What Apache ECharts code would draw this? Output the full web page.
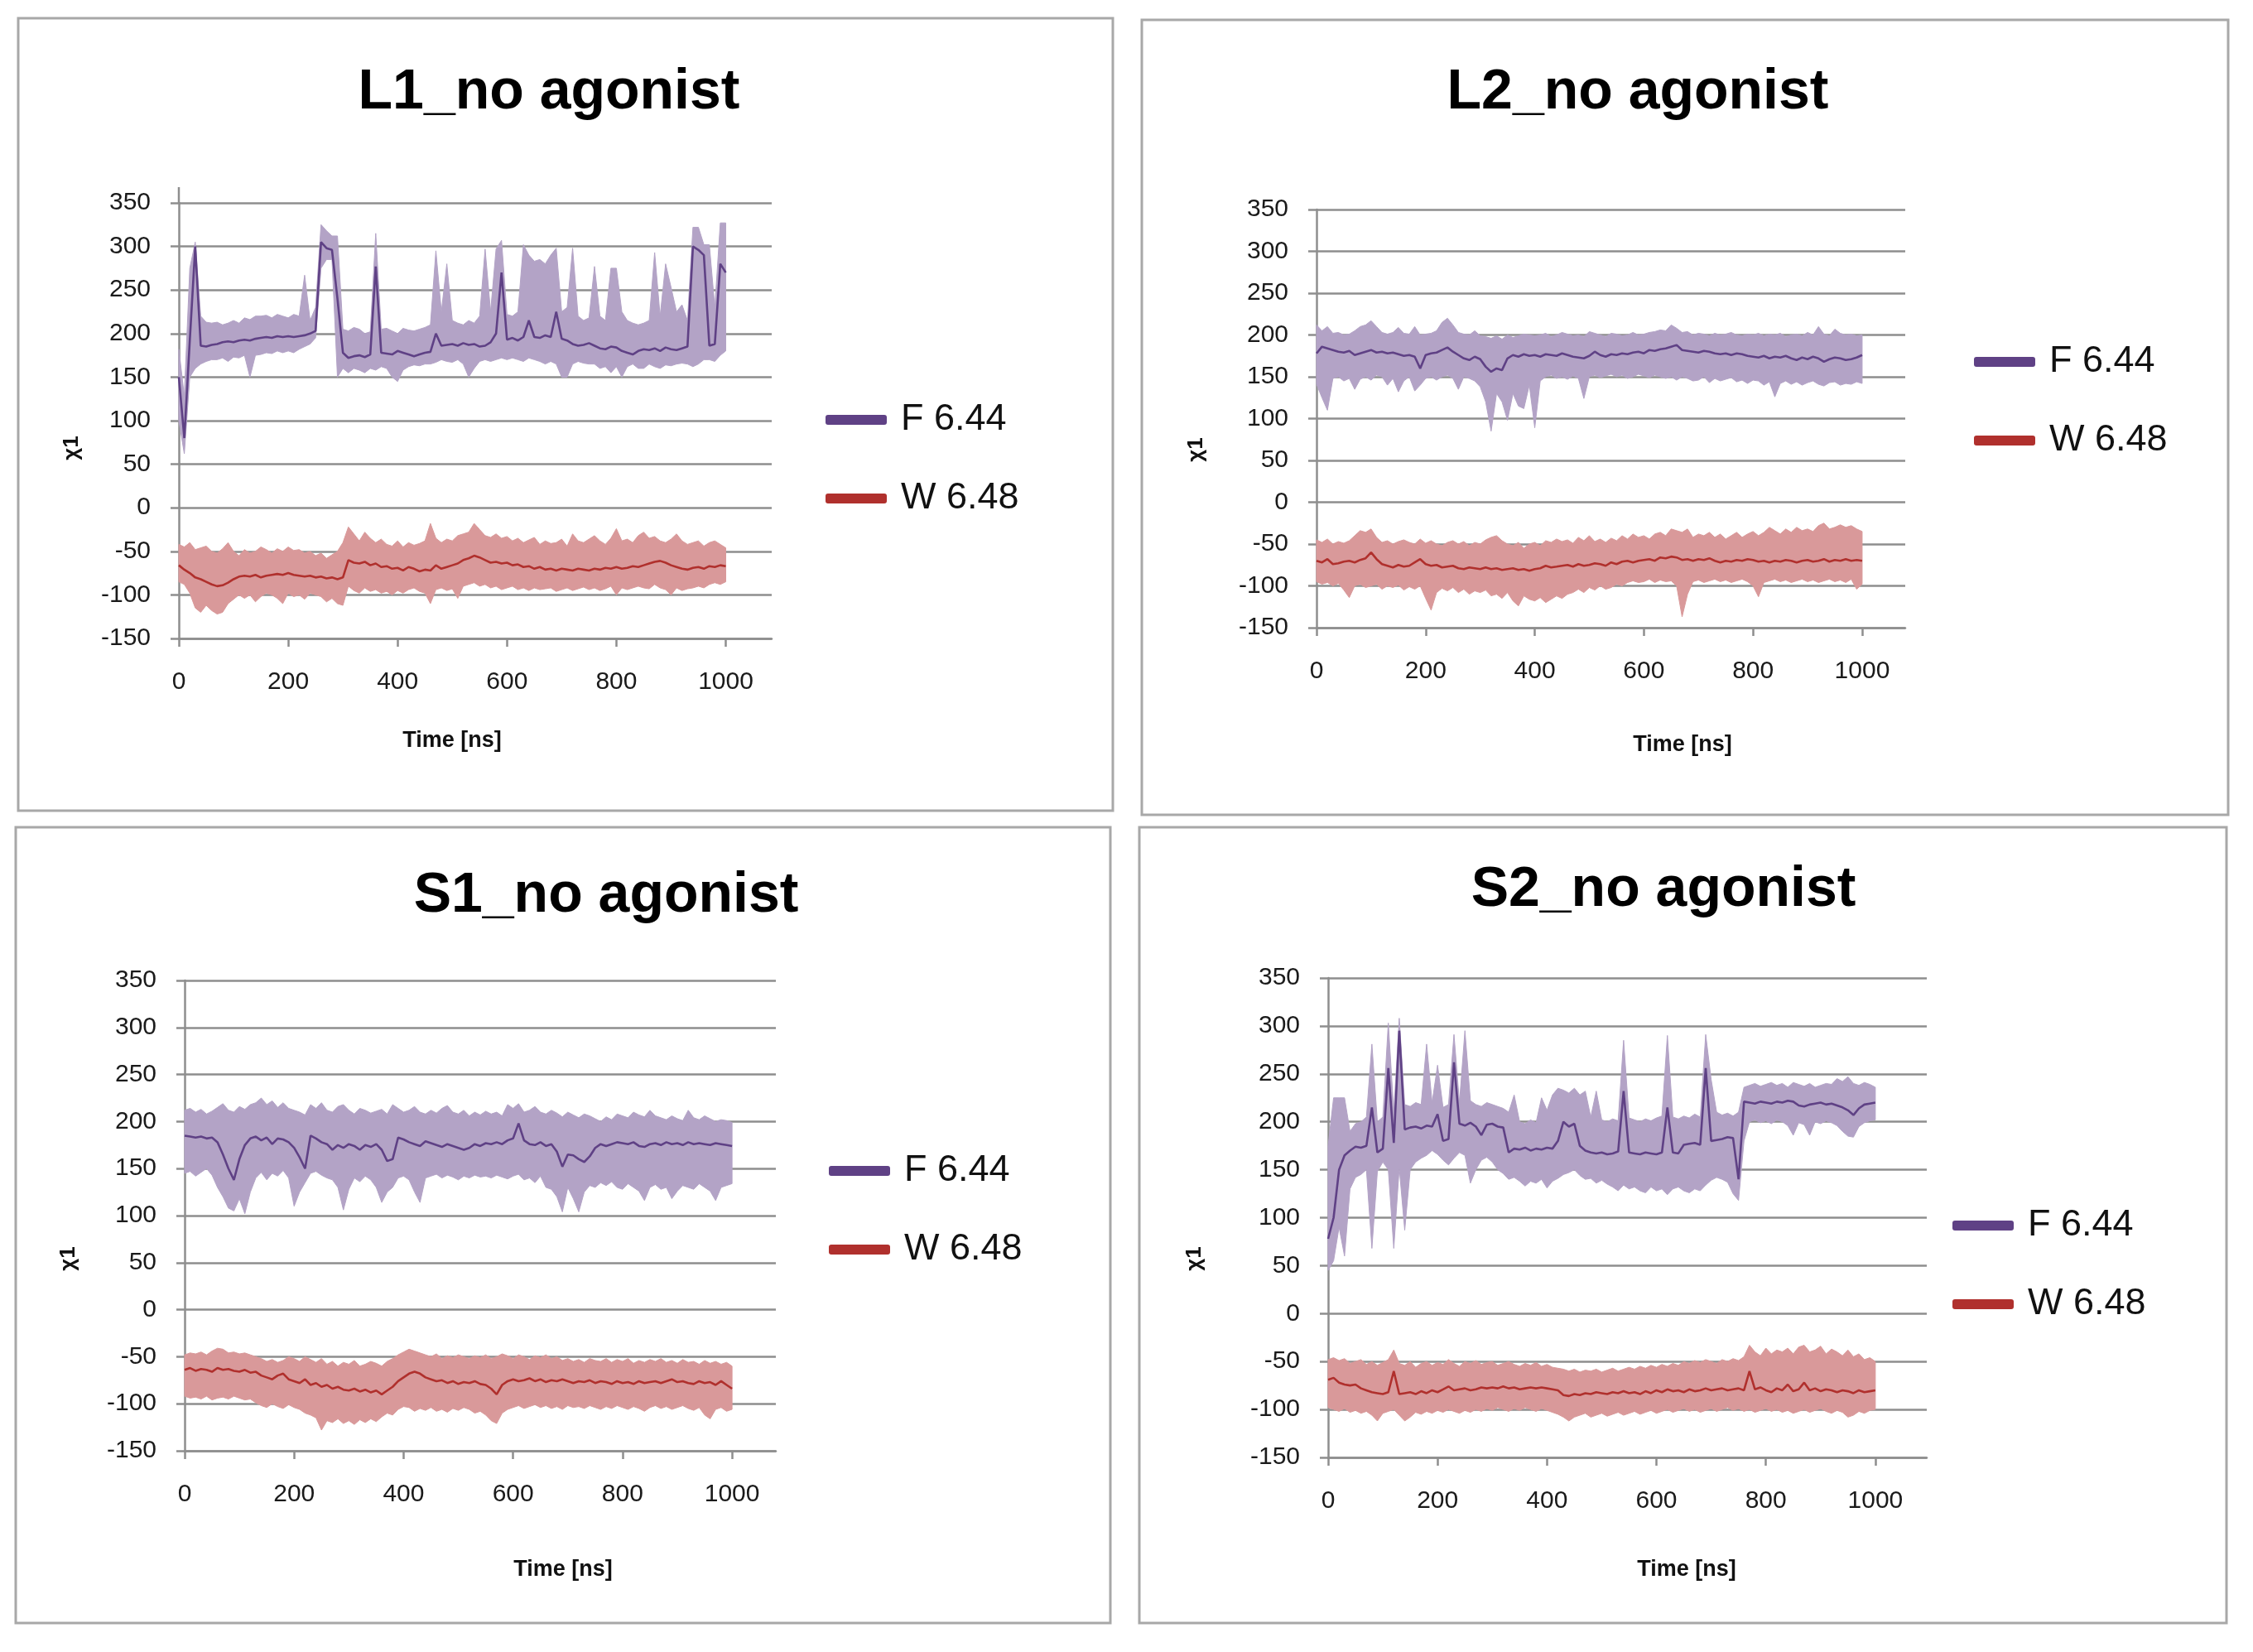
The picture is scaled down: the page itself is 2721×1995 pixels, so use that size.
<!DOCTYPE html>
<html><head><meta charset="utf-8">
<script src="https://cdn.jsdelivr.net/npm/echarts@6/dist/echarts.min.js"></script>
<style>html,body{margin:0;padding:0;background:#fff}#c{width:2721px;height:1995px}</style>
</head><body><div id="c"></div>
<script>
const TIME = [0,10,20,30,40,50,60,70,80,90,100,110,120,130,140,150,160,170,180,190,200,210,220,230,240,250,260,270,280,290,300,310,320,330,340,350,360,370,380,390,400,410,420,430,440,450,460,470,480,490,500,510,520,530,540,550,560,570,580,590,600,610,620,630,640,650,660,670,680,690,700,710,720,730,740,750,760,770,780,790,800,810,820,830,840,850,860,870,880,890,900,910,920,930,940,950,960,970,980,990,1000];
const X_TICKS = [0,200,400,600,800,1000];
const SERIES_NAMES = ['F 6.44','W 6.48'];
const PANEL_TITLES = ['L1_no agonist','L2_no agonist','S1_no agonist','S2_no agonist'];

// ---- L1 ----
const L1_F_MEAN = [150,80,192,300,186,185,187,188,190,191, 190,192,193,192,194,195,196,195,197,196, 197,196,197,198,200,203,305,298,296,240, 178,172,174,175,173,176,277,178,177,176, 180,178,176,174,176,178,179,200,186,187, 188,186,189,187,188,185,186,190,200,270, 193,195,192,196,215,196,195,198,196,225, 194,192,188,186,187,189,186,183,182,185, 184,180,178,176,180,182,181,183,180,184, 182,181,183,185,300,296,290,186,188,280, 270];
const L1_F_HI = [182,128,275,305,220,213,212,213,210,212, 215,212,218,216,220,220,221,218,222,220, 218,222,220,267,215,230,325,318,312,312, 205,203,207,205,200,202,315,205,206,203, 200,206,204,203,205,207,210,295,225,280, 215,212,210,215,212,220,297,225,297,307, 222,220,225,302,290,283,285,280,290,298, 225,230,298,220,215,218,277,220,215,275, 275,225,215,212,210,212,215,293,220,280, 253,225,233,215,322,322,302,302,230,327, 327];
const L1_F_LO = [100,62,150,160,165,168,170,170,172,168, 173,172,175,150,175,176,178,177,180,178, 180,178,182,185,188,195,275,285,285,150, 160,155,160,158,155,160,158,162,160,150, 145,158,162,164,163,165,165,167,170,168, 167,170,165,150,160,168,170,168,170,172, 170,172,170,168,172,170,168,165,168,165, 150,150,165,168,166,165,165,160,162,155, 162,150,162,165,160,160,165,162,160,164, 163,165,166,165,162,165,170,170,168,175, 180];
const L1_W_MEAN = [-66,-71,-75,-80,-82,-85,-88,-90,-89,-86, -82,-79,-78,-79,-77,-80,-78,-77,-76,-77, -75,-77,-78,-79,-78,-80,-79,-81,-80,-82, -80,-60,-63,-64,-62,-66,-64,-68,-67,-70, -69,-72,-68,-70,-73,-71,-72,-66,-70,-68, -66,-64,-60,-58,-55,-57,-60,-63,-62,-64, -63,-66,-65,-68,-67,-70,-68,-71,-70,-72, -70,-71,-72,-70,-71,-72,-70,-71,-69,-70, -68,-70,-69,-67,-68,-66,-64,-62,-61,-63, -66,-68,-70,-71,-69,-68,-70,-67,-68,-66, -67];
const L1_W_HI = [-42,-45,-40,-48,-46,-44,-50,-52,-47,-40, -50,-55,-48,-52,-50,-45,-48,-52,-47,-50, -45,-49,-48,-52,-50,-55,-52,-58,-54,-50, -40,-22,-30,-38,-28,-35,-40,-36,-42,-44, -38,-45,-40,-43,-41,-38,-18,-35,-40,-36, -38,-32,-30,-28,-18,-25,-32,-34,-30,-35, -33,-38,-35,-40,-37,-34,-42,-38,-41,-40, -36,-44,-30,-38,-40,-36,-32,-38,-42,-35, -24,-38,-36,-40,-32,-28,-35,-33,-38,-40, -36,-30,-38,-42,-40,-38,-44,-40,-38,-42, -46];
const L1_W_LO = [-85,-88,-98,-115,-120,-112,-118,-122,-120,-110, -105,-100,-104,-100,-108,-102,-98,-100,-104,-110, -98,-102,-100,-105,-98,-100,-102,-108,-104,-110, -112,-90,-95,-98,-92,-96,-94,-98,-96,-100, -95,-98,-94,-92,-96,-98,-110,-94,-92,-95, -93,-104,-90,-88,-86,-90,-88,-92,-90,-94, -92,-90,-94,-92,-95,-92,-94,-93,-92,-96, -94,-92,-95,-93,-91,-94,-92,-95,-93,-90, -100,-92,-94,-92,-90,-92,-93,-88,-92,-94, -100,-92,-95,-93,-92,-90,-92,-88,-86,-88, -85];

// ---- L2 ----
const L2_F_MEAN = [178,186,184,182,180,179,181,176,178,180, 182,179,180,178,179,177,175,176,174,160, 176,178,179,182,185,180,176,172,170,174, 171,162,156,160,158,172,176,174,177,175, 176,174,177,176,175,178,176,174,173,172, 175,180,176,174,177,176,178,177,179,180, 178,182,181,183,184,186,188,182,181,180, 179,181,180,178,177,178,176,178,177,175, 174,173,175,172,174,173,175,172,170,173, 171,174,172,168,171,173,172,170,171,173, 176];
const L2_F_HI = [212,205,210,202,203,200,201,205,210,212, 217,210,203,201,203,209,202,201,210,200, 201,202,205,215,220,212,203,201,200,205, 199,198,196,199,195,200,197,199,201,200, 199,200,202,198,200,203,201,199,200,198, 204,202,200,198,202,201,199,200,203,200, 201,203,204,206,205,212,208,203,204,200, 202,201,199,202,200,201,203,200,199,201, 200,202,199,201,200,202,198,200,201,199, 203,200,210,201,199,207,202,200,201,199, 200];
const L2_F_LO = [141,125,110,148,150,145,148,135,147,150, 146,152,150,140,148,132,145,150,133,140, 148,150,146,150,152,148,135,150,148,145, 138,120,85,130,120,98,130,115,112,140, 89,145,150,152,148,150,147,151,148,124, 150,152,149,151,153,150,152,148,150,153, 151,149,152,150,148,150,146,150,148,145, 146,150,143,148,145,147,149,144,146,142, 146,145,140,144,126,142,145,141,144,140, 143,145,141,139,143,144,140,142,141,144, 142];
const L2_W_MEAN = [-70,-72,-68,-74,-73,-71,-70,-72,-69,-67, -60,-68,-74,-76,-78,-75,-77,-76,-72,-68, -74,-76,-75,-78,-77,-76,-79,-80,-78,-79, -80,-78,-80,-79,-81,-80,-79,-81,-80,-82, -80,-79,-76,-78,-77,-76,-75,-77,-74,-76, -75,-73,-74,-76,-72,-74,-71,-70,-72,-70, -69,-68,-70,-66,-67,-65,-66,-69,-68,-70, -68,-69,-67,-70,-72,-70,-71,-69,-70,-68, -69,-71,-70,-72,-70,-71,-69,-70,-72,-70, -69,-71,-70,-68,-71,-69,-70,-68,-70,-69, -70];
const L2_W_HI = [-45,-48,-44,-50,-47,-49,-46,-40,-34,-36, -32,-42,-48,-46,-50,-47,-45,-48,-50,-44, -49,-46,-50,-52,-48,-46,-50,-47,-52,-48, -50,-45,-42,-40,-46,-50,-52,-48,-55,-50, -48,-52,-46,-48,-44,-47,-45,-49,-42,-46, -40,-47,-44,-48,-43,-46,-40,-44,-38,-42, -40,-44,-38,-36,-40,-32,-34,-36,-32,-42, -38,-40,-36,-42,-38,-44,-40,-36,-42,-38, -35,-40,-36,-30,-34,-38,-32,-36,-30,-34, -32,-35,-28,-25,-32,-30,-27,-30,-28,-32, -35];
const L2_W_LO = [-95,-98,-96,-100,-97,-105,-114,-100,-98,-102, -100,-98,-104,-100,-102,-99,-105,-101,-104,-100, -115,-129,-108,-103,-106,-102,-108,-104,-110,-106, -108,-105,-112,-110,-115,-108,-118,-124,-112,-116, -118,-114,-120,-116,-112,-115,-110,-108,-104,-108, -102,-105,-100,-104,-102,-98,-100,-96,-94,-96, -95,-92,-96,-93,-95,-94,-100,-137,-110,-95, -93,-96,-94,-92,-95,-93,-96,-94,-92,-95, -100,-113,-96,-94,-92,-95,-93,-96,-94,-92, -95,-93,-96,-94,-92,-95,-93,-96,-92,-104, -98];

// ---- S1 ----
const S1_F_MEAN = [185,184,183,184,182,183,178,165,150,138, 160,175,182,184,180,183,176,182,181,178, 172,162,150,185,182,178,176,170,175,172, 176,174,170,175,173,176,170,158,160,183, 181,178,176,174,179,177,175,173,176,174, 172,170,172,176,174,177,176,178,176,180, 182,198,180,176,175,178,174,176,168,152, 165,164,160,157,163,172,176,174,176,178, 177,176,178,174,173,176,177,175,178,176, 177,175,178,176,177,176,175,177,176,175, 174];
const S1_F_HI = [212,214,210,213,208,211,215,219,212,210, 216,213,218,220,225,218,222,215,220,214, 212,210,207,218,214,220,212,210,216,218, 212,208,214,212,209,211,213,208,218,214, 210,212,216,210,208,212,209,214,217,210, 208,212,206,210,207,211,208,210,206,218, 214,219,210,212,216,210,208,212,209,205, 210,207,204,208,206,203,200,205,202,208, 206,204,210,207,205,212,206,204,202,206, 203,201,212,204,202,206,203,200,202,201, 199];
const S1_F_LO = [145,147,142,146,150,143,130,120,108,105, 118,102,125,140,146,138,145,142,148,140, 110,125,135,145,147,143,140,138,130,106, 128,140,136,142,138,130,114,125,130,140, 142,138,125,114,140,142,144,140,143,141, 138,142,140,143,141,142,140,143,141,139, 142,144,138,140,135,142,130,128,120,104, 130,118,104,125,132,130,135,132,136,130, 128,134,130,126,116,130,133,128,130,118, 126,132,130,128,134,130,126,116,130,132, 134];
const S1_W_MEAN = [-64,-62,-65,-63,-64,-66,-62,-64,-63,-65, -66,-64,-67,-66,-70,-72,-74,-70,-68,-74, -76,-78,-74,-80,-78,-82,-80,-84,-82,-85, -86,-84,-87,-85,-88,-86,-90,-86,-82,-76, -72,-68,-66,-68,-72,-74,-76,-75,-78,-76, -79,-77,-78,-76,-79,-80,-84,-90,-80,-76, -74,-76,-75,-73,-76,-74,-77,-75,-76,-74, -76,-78,-76,-77,-75,-78,-76,-77,-79,-76, -78,-77,-79,-76,-78,-77,-76,-78,-76,-74, -77,-76,-78,-79,-76,-78,-77,-80,-76,-80, -84];
const S1_W_HI = [-48,-46,-47,-45,-48,-44,-41,-42,-46,-45, -47,-46,-48,-50,-52,-55,-53,-56,-54,-50, -52,-55,-50,-53,-56,-52,-58,-55,-60,-56, -58,-54,-60,-58,-55,-57,-60,-55,-52,-48, -45,-42,-44,-46,-48,-50,-47,-52,-49,-51, -48,-50,-52,-49,-51,-48,-52,-50,-47,-49, -52,-48,-50,-53,-49,-51,-48,-52,-50,-54, -52,-55,-53,-56,-52,-54,-55,-52,-56,-53, -55,-52,-57,-54,-56,-53,-55,-52,-56,-54, -57,-53,-56,-55,-58,-54,-57,-55,-58,-56, -60];
const S1_W_LO = [-92,-94,-93,-95,-92,-96,-94,-93,-95,-92, -94,-96,-95,-99,-102,-104,-100,-103,-105,-101, -104,-106,-110,-112,-115,-128,-118,-120,-116,-121, -118,-122,-117,-120,-116,-119,-114,-110,-112,-106, -103,-104,-108,-105,-107,-104,-108,-106,-109,-105, -107,-104,-106,-110,-108,-112,-118,-121,-110,-106, -104,-102,-105,-103,-101,-104,-102,-105,-103,-106, -102,-104,-103,-105,-102,-104,-106,-103,-105,-102, -104,-106,-103,-105,-108,-104,-102,-105,-103,-106, -104,-102,-105,-107,-104,-112,-116,-106,-104,-108, -106];

// ---- S2 ----
const S2_F_MEAN = [78,100,150,165,170,174,173,175,215,168, 172,256,178,295,192,194,195,193,196,195, 208,180,182,262,198,196,199,195,186,197, 198,195,194,168,172,171,173,170,172,171, 173,172,180,200,195,198,175,170,168,167, 168,166,167,169,232,168,167,166,168,167, 166,168,215,168,167,176,177,178,176,256, 180,181,182,184,183,140,221,220,219,221, 220,219,221,220,222,221,217,216,218,219, 220,218,219,217,215,212,207,214,218,219, 220];
const S2_F_HI = [175,225,225,225,190,198,200,205,281,200, 205,303,210,308,218,216,220,218,281,220, 259,215,218,291,220,295,222,218,216,220, 218,216,214,210,228,200,198,202,199,225, 212,228,235,233,230,235,228,232,205,232, 202,200,203,201,285,204,202,200,203,201, 204,206,290,205,203,206,204,208,205,291, 244,210,207,209,206,210,236,238,240,237, 239,241,238,240,236,241,239,237,240,236, 238,240,239,245,242,247,240,238,241,239, 236];
const S2_F_LO = [45,55,90,60,130,142,145,150,68,148, 158,150,68,152,87,150,158,162,165,170, 166,160,155,162,168,165,136,150,160,163, 158,150,146,140,142,138,133,138,136,140, 131,138,141,145,147,150,144,140,141,136, 139,135,132,128,134,130,132,128,126,132, 128,130,124,130,132,128,126,130,128,134, 139,142,140,137,125,118,180,200,202,199, 201,198,202,200,196,186,199,197,186,200, 198,201,199,196,190,185,184,195,199,201, 202];
const S2_W_MEAN = [-69,-67,-72,-74,-75,-74,-78,-80,-82,-83, -84,-82,-60,-84,-83,-82,-84,-81,-83,-80, -82,-79,-76,-80,-79,-78,-80,-79,-77,-78, -77,-78,-76,-78,-77,-79,-78,-77,-78,-77, -78,-79,-80,-85,-86,-84,-85,-83,-84,-82, -83,-84,-82,-83,-81,-83,-82,-84,-81,-83, -80,-82,-79,-81,-80,-82,-79,-81,-80,-78, -80,-79,-78,-80,-79,-78,-80,-60,-79,-77, -80,-82,-78,-80,-74,-81,-79,-72,-80,-78, -81,-79,-80,-82,-80,-81,-83,-80,-82,-81, -80];
const S2_W_HI = [-48,-46,-49,-47,-52,-50,-48,-53,-50,-54, -51,-48,-38,-52,-54,-50,-56,-52,-50,-54, -51,-53,-48,-52,-55,-50,-52,-49,-53,-51, -50,-54,-52,-50,-53,-55,-52,-54,-51,-55, -53,-56,-57,-58,-60,-58,-61,-59,-60,-58, -61,-59,-57,-60,-58,-56,-58,-55,-57,-54, -56,-53,-55,-52,-54,-50,-52,-49,-51,-48, -50,-52,-48,-50,-47,-49,-45,-33,-40,-44, -36,-42,-38,-40,-36,-42,-35,-33,-40,-38, -34,-42,-37,-40,-44,-38,-45,-42,-48,-46, -50];
const S2_W_LO = [-98,-100,-102,-99,-103,-101,-104,-102,-106,-112, -104,-102,-100,-106,-112,-108,-103,-105,-102,-104, -101,-103,-100,-102,-104,-101,-103,-100,-102,-99, -101,-98,-100,-102,-99,-101,-98,-100,-102,-99, -101,-103,-105,-108,-112,-108,-106,-104,-108,-106, -104,-107,-105,-103,-106,-104,-102,-105,-103,-101, -104,-102,-100,-103,-101,-99,-102,-100,-103,-101, -99,-102,-100,-98,-101,-99,-102,-100,-103,-101, -99,-102,-100,-103,-101,-104,-102,-100,-103,-101, -99,-102,-104,-101,-103,-108,-106,-102,-104,-101, -100];

const COLORS = {
  fLine: '#5f4185', fBand: '#b3a3c6',
  wLine: '#b0302d', wBand: '#d9999a',
  grid: '#8e8e8e', text: '#1a1a1a', border: '#a8a8a8'
};
const FONT = 'Liberation Sans';

const PANELS = [
  { title: PANEL_TITLES[0], F: [L1_F_MEAN, L1_F_HI, L1_F_LO], W: [L1_W_MEAN, L1_W_HI, L1_W_LO],
    grid: {left: 216, top: 245, width: 716, height: 526}, xMax: 1084, axisTopExtra: 19,
    box: [22, 22, 1322, 957], titlePos: [663, 112], xName: [546, 895], yName: [87, 541], legend: [992, 477] },
  { title: PANEL_TITLES[1], F: [L2_F_MEAN, L2_F_HI, L2_F_LO], W: [L2_W_MEAN, L2_W_HI, L2_W_LO],
    grid: {left: 1590, top: 253, width: 711, height: 505}, xMax: 1079, axisTopExtra: 0,
    box: [1379, 24, 1312, 960], titlePos: [1978, 112], xName: [2032, 900], yName: [1445, 543], legend: [2379, 407] },
  { title: PANEL_TITLES[2], F: [S1_F_MEAN, S1_F_HI, S1_F_LO], W: [S1_W_MEAN, S1_W_HI, S1_W_LO],
    grid: {left: 223, top: 1184, width: 714, height: 568}, xMax: 1080, axisTopExtra: 0,
    box: [19, 999, 1322, 961], titlePos: [732, 1082], xName: [680, 1896], yName: [83, 1520], legend: [996, 1384] },
  { title: PANEL_TITLES[3], F: [S2_F_MEAN, S2_F_HI, S2_F_LO], W: [S2_W_MEAN, S2_W_HI, S2_W_LO],
    grid: {left: 1604, top: 1181, width: 723, height: 579}, xMax: 1094, axisTopExtra: 0,
    box: [1376, 999, 1313, 961], titlePos: [2009, 1075], xName: [2037, 1896], yName: [1443, 1520], legend: [2353, 1450] }
];

function pairs(a) { return TIME.map((t, i) => [t, a[i]]); }

// band polygon (min..max envelope) drawn through the axis scales with a custom series
function bandSeries(k, hi, lo, color, name) {
  return {
    type: 'custom', name: name, xAxisIndex: k, yAxisIndex: k, silent: true, z: 1,
    data: TIME.map((t, i) => [t, lo[i], hi[i]]),
    encode: {x: 0, y: [1, 2]},
    renderItem: function (params, api) {
      if (params.dataIndex !== 0) return null;
      const top = TIME.map((t, i) => api.coord([t, hi[i]]));
      const bot = TIME.map((t, i) => api.coord([t, lo[i]])).reverse();
      return {type: 'polygon', shape: {points: top.concat(bot)},
        style: {fill: color, stroke: color, lineWidth: 1}};
    },
    animation: false
  };
}

const grids = [], xAxes = [], yAxes = [], series = [], legends = [], graphics = [];

PANELS.forEach((p, k) => {
  grids.push(Object.assign({containLabel: false}, p.grid));
  xAxes.push({
    type: 'value', gridIndex: k, min: 0, max: p.xMax,
    axisLine: {show: true, onZero: false, lineStyle: {color: COLORS.grid, width: 2.5}},
    axisTick: {show: true, length: 10, customValues: X_TICKS, lineStyle: {color: COLORS.grid, width: 2.5}},
    axisLabel: {customValues: X_TICKS, formatter: v => String(v), fontSize: 30, fontFamily: FONT, color: COLORS.text, margin: 38},
    splitLine: {show: false}
  });
  yAxes.push({
    type: 'value', gridIndex: k, min: -150, max: 350, interval: 50,
    axisLine: {show: true, onZero: false, lineStyle: {color: COLORS.grid, width: 2.5}},
    axisTick: {show: true, length: 10, lineStyle: {color: COLORS.grid, width: 2.5}},
    axisLabel: {formatter: v => String(v), fontSize: 30, fontFamily: FONT, color: COLORS.text, margin: 34},
    splitLine: {show: true, lineStyle: {color: COLORS.grid, width: 2.5}}
  });
  series.push(bandSeries(k, p.F[1], p.F[2], COLORS.fBand, SERIES_NAMES[0] + ' range'));
  series.push(bandSeries(k, p.W[1], p.W[2], COLORS.wBand, SERIES_NAMES[1] + ' range'));
  [[p.F[0], COLORS.fLine, SERIES_NAMES[0]], [p.W[0], COLORS.wLine, SERIES_NAMES[1]]].forEach(([m, lc, nm]) => {
    series.push({
      type: 'line', name: nm, xAxisIndex: k, yAxisIndex: k, data: pairs(m),
      symbol: 'none', z: 3, itemStyle: {color: lc}, lineStyle: {color: lc, width: 2.6}, animation: false
    });
  });
  legends.push({
    data: SERIES_NAMES, left: p.legend[0], top: p.legend[1], orient: 'vertical',
    itemWidth: 74, itemHeight: 12, itemGap: 45, icon: 'roundRect', selectedMode: false,
    textStyle: {fontSize: 45, fontFamily: FONT, color: '#111', lineHeight: 50, padding: [0, 0, 0, 12]}
  });
  graphics.push({type: 'rect', silent: true, shape: {x: p.box[0], y: p.box[1], width: p.box[2], height: p.box[3]},
    style: {fill: 'none', stroke: COLORS.border, lineWidth: 3}});
  if (p.axisTopExtra > 0) {
    graphics.push({type: 'line', silent: true,
      shape: {x1: p.grid.left, y1: p.grid.top - p.axisTopExtra, x2: p.grid.left, y2: p.grid.top},
      style: {stroke: COLORS.grid, lineWidth: 2.5}});
  }
  graphics.push({type: 'text', x: p.titlePos[0], y: p.titlePos[1],
    style: {text: p.title, fontSize: 68, fontWeight: 'bold', fontFamily: FONT, fill: '#000', align: 'center', verticalAlign: 'middle'}});
  graphics.push({type: 'text', x: p.xName[0], y: p.xName[1],
    style: {text: 'Time [ns]', fontSize: 27, fontWeight: 'bold', fontFamily: FONT, fill: '#111', align: 'center', verticalAlign: 'middle'}});
  graphics.push({type: 'text', x: p.yName[0], y: p.yName[1], rotation: Math.PI / 2,
    style: {text: 'χ1', fontSize: 26, fontWeight: 'bold', fontFamily: FONT, fill: '#111', align: 'center', verticalAlign: 'middle'}});
});

const chart = echarts.init(document.getElementById('c'), null, {renderer: 'canvas'});
chart.setOption({
  backgroundColor: '#ffffff',
  animation: false,
  grid: grids, xAxis: xAxes, yAxis: yAxes, series: series, legend: legends, graphic: graphics
});
</script></body></html>
